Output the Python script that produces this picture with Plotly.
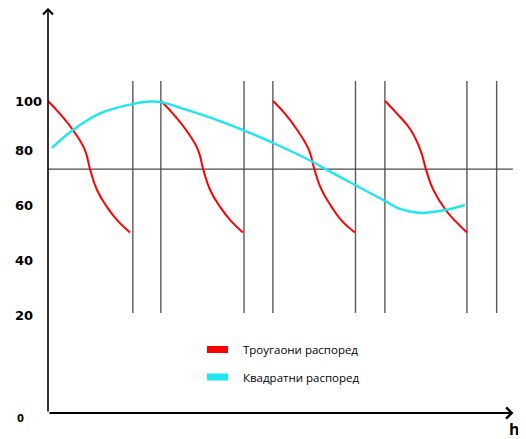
import plotly.graph_objects as go

# ---------------- data ----------------
# red "triangular" segments (x in time units, y in %)
red1_x = [0.0, 0.43, 0.89, 1.32, 1.50, 1.75, 2.11, 2.50, 2.93]
red1_y = [100, 95.1, 89.0, 81.4, 74.2, 66.3, 59.8, 54.5, 50.2]
red2_x = [4.04, 4.47, 4.93, 5.36, 5.54, 5.79, 6.15, 6.54, 6.96]
red2_y = [100, 95.1, 89.0, 81.4, 74.2, 66.3, 59.8, 54.5, 50.2]
red3_x = [8.04, 8.47, 8.90, 9.32, 9.50, 9.75, 10.12, 10.50, 10.96]
red3_y = [100, 95.1, 89.0, 81.4, 74.6, 66.8, 60.0, 54.5, 50.2]
red4_x = [12.04, 12.47, 12.93, 13.30, 13.50, 13.75, 14.20, 14.55, 14.96]
red4_y = [100, 95.1, 89.4, 81.4, 74.0, 66.5, 58.7, 54.5, 50.2]

# cyan "square" curve
cyan_x = [0.14, 0.89, 1.86, 3.04, 3.64, 4.04, 4.96, 6.14, 6.96, 8.04, 9.46, 9.96,
          10.96, 12.04, 12.57, 13.29, 14.18, 14.89]
cyan_y = [82.2, 89.0, 95.3, 98.9, 99.8, 99.6, 96.6, 92.4, 89.0, 84.1, 76.9, 73.9,
          68.2, 62.1, 59.1, 57.6, 58.7, 60.6]

vline_x = [3.03, 4.03, 7.0, 8.03, 10.98, 12.03, 14.96, 16.02]
vline_y0 = 19.7
vline_y1 = 107.6
hline_y = 74.2
hline_x1 = 16.6

tick_labels = ["100", "80", "60", "40", "20", "0"]
tick_pos = [99.8, 81.1, 60.6, 39.5, 18.6, -20.1]

legend_names = ["Троугаони распоред", "Квадратни распоред"]
RED = "#ff0000"
CYAN = "#1ee6f0"

# ---------------- geometry ----------------
# the page adds an 8px body margin, so the figure is shifted by OFF
OFF = 8
W, H = 526 - OFF, 439 - OFF
L, R, T, B = 48 - OFF, 12, 10 - OFF, 26
PW, PH = W - L - R, H - T - B
XR = [0, 16.64]
YR = [-18.18, 134.47]


def px(xp):
    # screen pixel -> paper x
    return (xp - OFF - L) / PW


def py(yp):
    # screen pixel -> paper y
    return (H - B - (yp - OFF)) / PH


def vy(v):
    # data value -> paper y
    return (v - YR[0]) / (YR[1] - YR[0])


fig = go.Figure()

# schematic lines
for xv in vline_x:
    fig.add_shape(type="line", x0=xv, x1=xv, y0=vline_y0, y1=vline_y1,
                  line=dict(color="#5a5a5a", width=1.4), layer="below")
fig.add_shape(type="line", x0=0, x1=hline_x1, y0=hline_y, y1=hline_y,
              line=dict(color="#4a4a4a", width=1.2), layer="below")

for xs, ys in [(red1_x, red1_y), (red2_x, red2_y), (red3_x, red3_y), (red4_x, red4_y)]:
    fig.add_trace(go.Scatter(x=xs, y=ys, mode="lines",
                             line=dict(color=RED, width=2, shape="spline", smoothing=1.3),
                             showlegend=False, hoverinfo="skip"))

fig.add_trace(go.Scatter(x=cyan_x, y=cyan_y, mode="lines",
                         line=dict(color=CYAN, width=2.4, shape="spline", smoothing=1.1),
                         showlegend=False, hoverinfo="skip"))

# axes with arrows
fig.add_annotation(x=0, y=YR[1] + 0.8, ax=0, ay=YR[0], xref="x", yref="y", axref="x", ayref="y",
                   showarrow=True, arrowhead=4, arrowsize=1.2, arrowwidth=1.6, arrowcolor="black", text="")
fig.add_annotation(x=XR[1] - 0.02, y=YR[0], ax=0, ay=YR[0], xref="x", yref="y", axref="x", ayref="y",
                   showarrow=True, arrowhead=4, arrowsize=1.2, arrowwidth=1.8, arrowcolor="black", text="")

# tick labels
for lab, pos in zip(tick_labels, tick_pos):
    fig.add_annotation(x=px(13 if lab != "0" else 15), y=vy(pos), xref="paper", yref="paper", text=lab,
                       showarrow=False, xanchor="left", yanchor="middle",
                       font=dict(family="DejaVu Sans", size=13 if lab != "0" else 10,
                                 color="black", weight="bold"))

# manual legend
leg_colors = [RED, CYAN]
leg_y = [349.5, 377]
for name, col, yp in zip(legend_names, leg_colors, leg_y):
    fig.add_shape(type="rect", xref="paper", yref="paper",
                  x0=px(207), x1=px(228), y0=py(yp + 3.5), y1=py(yp - 3.5),
                  fillcolor=col, line=dict(width=0))
    fig.add_annotation(x=px(241), y=py(yp), xref="paper", yref="paper", text=name,
                       showarrow=False, xanchor="left", yanchor="middle",
                       font=dict(family="Open Sans", size=11.5, color="black"))

# axis letter at the end of the horizontal axis
fig.add_annotation(x=px(522), y=py(429), xref="paper", yref="paper", text="h", showarrow=False,
                   xanchor="right", yanchor="middle",
                   font=dict(family="Open Sans", size=16, color="black", weight="bold"))

fig.update_xaxes(range=XR, visible=False)
fig.update_yaxes(range=YR, visible=False)
fig.update_layout(width=W, height=H, margin=dict(l=L, r=R, t=T, b=B),
                  plot_bgcolor="white", paper_bgcolor="white", showlegend=False)

fig.write_html("out.html")
